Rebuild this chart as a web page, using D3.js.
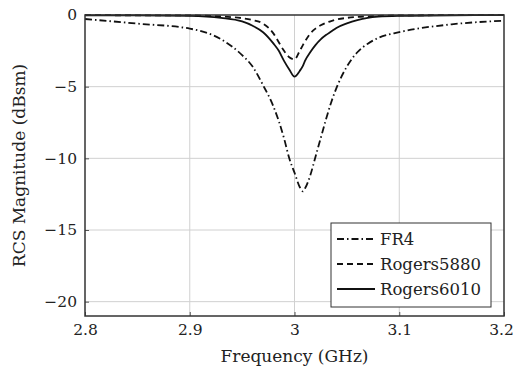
<!DOCTYPE html>
<html>
<head>
<meta charset="utf-8">
<script src="https://cdn.jsdelivr.net/npm/d3@7"></script>
<style>
  body { margin: 0; background: #fff; }
  text { font-family: "DejaVu Serif", serif; fill: #222; }
</style>
</head>
<body>
<div id="chart"></div>
<script>
// frequency samples (GHz)
var freq = [2.80, 2.85, 2.90, 2.93, 2.95, 2.96, 2.97, 2.98, 2.985, 2.99, 2.995, 3.00, 3.005, 3.008,
            3.01, 3.015, 3.02, 3.025, 3.03, 3.035, 3.04, 3.05, 3.06, 3.07, 3.08, 3.10, 3.15, 3.20];

var fr4 = [-0.28, -0.6, -0.95, -1.7, -2.8, -3.6, -4.9, -6.4, -7.4, -8.6, -10.0, -11.0, -12.0, -12.3,
           -12.1, -11.2, -9.9, -8.6, -7.3, -6.1, -5.1, -3.6, -2.6, -2.0, -1.6, -1.2, -0.65, -0.4];

var rogers5880 = [-0.01, -0.02, -0.03, -0.1, -0.22, -0.35, -0.6, -1.3, -1.9, -2.5, -2.95, -3.1, -2.5, -2.1,
                  -1.85, -1.3, -0.95, -0.72, -0.55, -0.42, -0.32, -0.2, -0.13, -0.09, -0.06, -0.03, -0.01, 0];

var rogers6010 = [-0.02, -0.03, -0.06, -0.2, -0.45, -0.75, -1.2, -2.0, -2.5, -3.2, -3.8, -4.3, -3.9, -3.55,
                  -3.2, -2.6, -2.1, -1.7, -1.4, -1.15, -0.9, -0.58, -0.35, -0.2, -0.12, -0.06, -0.02, -0.01];

var xTicks = [2.8, 2.9, 3.0, 3.1, 3.2];
var xTickLabels = ["2.8", "2.9", "3", "3.1", "3.2"];
var yTicks = [0, -5, -10, -15, -20];

var seriesNames = ["FR4", "Rogers5880", "Rogers6010"];
var seriesValues = [fr4, rogers5880, rogers6010];
var dashes = ["7,3,1.5,3", "6,4", null];

var margin = {top: 15, right: 12, bottom: 53, left: 85},
    width = 516 - margin.left - margin.right,
    height = 369 - margin.top - margin.bottom;

var svg = d3.select("#chart")
  .append("svg")
    .attr("width", 516)
    .attr("height", 369)
  .append("g")
    .attr("transform", "translate(" + margin.left + "," + margin.top + ")");

var x = d3.scaleLinear().domain([2.8, 3.2]).range([0, width]);
var y = d3.scaleLinear().domain([-21, 0]).range([height, 0]);

// grid
svg.append("g")
  .selectAll("line.gx")
  .data(xTicks.slice(1, -1))
  .enter().append("line")
    .attr("x1", function(d) { return x(d); })
    .attr("x2", function(d) { return x(d); })
    .attr("y1", 0).attr("y2", height)
    .attr("stroke", "#d0d0d0").attr("stroke-width", 1);
svg.append("g")
  .selectAll("line.gy")
  .data(yTicks.slice(1))
  .enter().append("line")
    .attr("x1", 0).attr("x2", width)
    .attr("y1", function(d) { return y(d); })
    .attr("y2", function(d) { return y(d); })
    .attr("stroke", "#d0d0d0").attr("stroke-width", 1);

// axes
var xAxis = svg.append("g")
  .attr("transform", "translate(0," + height + ")")
  .call(d3.axisBottom(x).tickValues(xTicks)
    .tickFormat(function(d, i) { return xTickLabels[i]; })
    .tickSize(-4).tickPadding(8));
var yAxis = svg.append("g")
  .call(d3.axisLeft(y).tickValues(yTicks).tickSize(-4).tickPadding(8));

[xAxis, yAxis].forEach(function(a) {
  a.select(".domain").remove();
  a.selectAll("line").attr("stroke", "#555");
  a.selectAll("text").style("font-family", "DejaVu Serif").style("font-size", "15.5px").attr("fill", "#222");
});
// keep the last x label inside the page
xAxis.selectAll(".tick text").filter(function(d) { return d === 3.2; }).attr("dx", "-3");

// lines
var line = d3.line()
  .x(function(d) { return x(d[0]); })
  .y(function(d) { return y(d[1]); })
  .curve(d3.curveMonotoneX);

seriesValues.forEach(function(vals, i) {
  svg.append("path")
    .datum(freq.map(function(f, j) { return [f, vals[j]]; }))
    .attr("fill", "none")
    .attr("stroke", "#111")
    .attr("stroke-width", 1.8)
    .attr("stroke-dasharray", dashes[i])
    .attr("d", line);
});

// frame
svg.append("rect")
  .attr("width", width).attr("height", height)
  .attr("fill", "none").attr("stroke", "#333").attr("stroke-width", 1.5);

// legend
var lg = svg.append("g").attr("transform", "translate(" + (331 - margin.left) + "," + (223 - margin.top) + ")");
lg.append("rect")
  .attr("width", 160).attr("height", 84)
  .attr("fill", "#fff").attr("stroke", "#333").attr("stroke-width", 1);
seriesNames.forEach(function(name, i) {
  var yy = 16 + i * 25;
  lg.append("line")
    .attr("x1", 6).attr("x2", 44)
    .attr("y1", yy).attr("y2", yy)
    .attr("stroke", "#111").attr("stroke-width", 1.8)
    .attr("stroke-dasharray", dashes[i]);
  lg.append("text")
    .attr("x", 49).attr("y", yy)
    .attr("dy", "0.35em")
    .style("font-size", "16.5px")
    .text(name);
});

// axis titles
svg.append("text")
  .attr("x", width / 2).attr("y", height + 46)
  .attr("text-anchor", "middle")
  .style("font-size", "17px")
  .text("Frequency (GHz)");
svg.append("text")
  .attr("transform", "translate(" + (19 - margin.left) + "," + (height / 2) + ") rotate(-90)")
  .attr("text-anchor", "middle")
  .attr("dy", "0.35em")
  .style("font-size", "17px")
  .text("RCS Magnitude (dBsm)");
</script>
</body>
</html>
